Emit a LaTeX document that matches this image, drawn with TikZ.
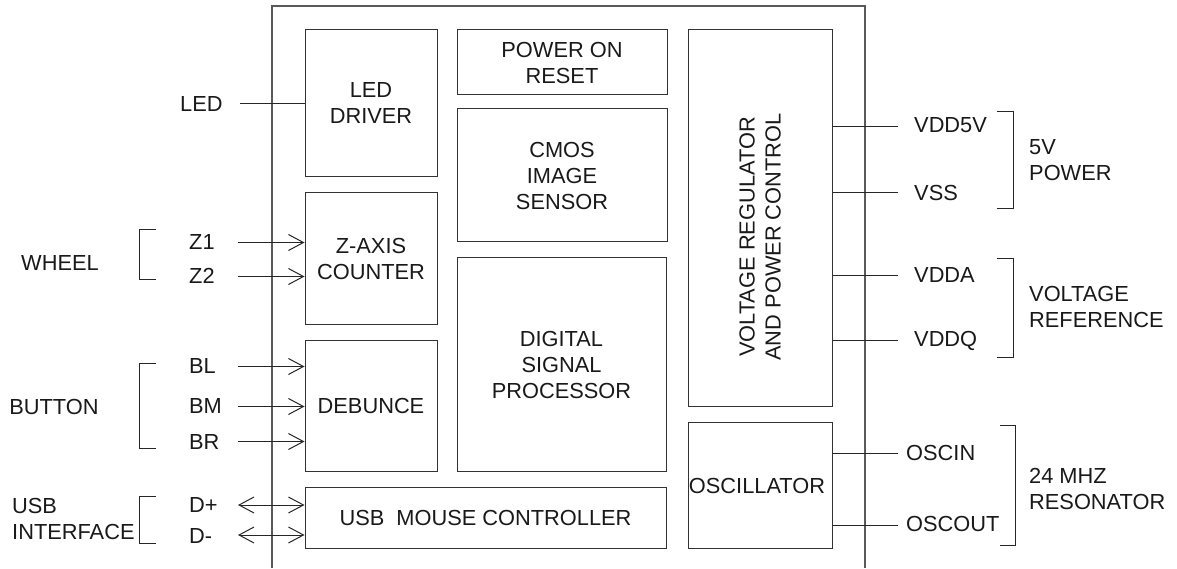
\documentclass[tikz,border=0pt]{standalone}
\usepackage{fontspec}
\setmainfont{Liberation Sans}
\usetikzlibrary{arrows.meta}
\begin{document}
\begin{tikzpicture}[x=1pt,y=-1pt,
  every node/.style={font=\fontsize{21.8}{26}\selectfont, inner sep=0pt, align=center, text=black!90},
  blk/.style={draw=black!80, line width=1pt, minimum width=#1},
  lbl/.style={anchor=west},
  wire/.style={draw=black!85, line width=1pt},
  arr/.style={wire, -{Straight Barb[length=15pt,width=16pt,line width=1pt]}},
  darr/.style={wire, {Straight Barb[length=15pt,width=16pt,line width=1pt]}-{Straight Barb[length=15pt,width=16pt,line width=1pt]}},
  brk/.style={draw=black!85, line width=1pt}]
\useasboundingbox (0,0) rectangle (1177,569);
% outer chip
\draw[draw=black!65, line width=1.3pt] (272,568) |- (865,6) -- (865,568);
% blocks
\node[blk=132pt, minimum height=147pt] (led) at (371,103.5) {LED\\DRIVER};
\node[blk=210pt, minimum height=65pt] (por) at (562,62.5) {POWER ON\\RESET};
\node[blk=210pt, minimum height=133pt] (cmos) at (562,175.5) {CMOS\\IMAGE\\SENSOR};
\node[blk=209pt, minimum height=213pt] (dsp) at (561.5,364.5) {DIGITAL\\SIGNAL\\PROCESSOR};
\node[blk=144pt, minimum height=376pt] (vr) at (760,218) {};
\node[rotate=90] (vrt) at (760,237) {VOLTAGE REGULATOR\\AND POWER CONTROL};
\node[blk=144pt, minimum height=126pt] (osc) at (760,485) {};
\node (osct) at (757,486) {OSCILLATOR};
\node[blk=132pt, minimum height=131pt] (zax) at (371,258.5) {Z-AXIS\\COUNTER};
\node[blk=132pt, minimum height=131pt] (deb) at (371,405.5) {DEBUNCE};
\node[blk=361pt, minimum height=61pt] (usb) at (485.5,517.5) {};
\node (usbt) at (485.5,517.5) {USB\ \ MOUSE CONTROLLER};
% left labels
\node[lbl] (ledl) at (180,104) {LED};
\coordinate (leds) at (240,104);
\draw[wire] (leds) -- (led.west |- leds);
\node (wheel) at (60,263) {WHEEL};
\node[lbl] (z1) at (189,242) {Z1};
\node[lbl] (z2) at (189,276) {Z2};
\coordinate (z1s) at (238,242.5);
\coordinate (z2s) at (238,276.5);
\draw[arr] (z1s) -- (zax.west |- z1s);
\draw[arr] (z2s) -- (zax.west |- z2s);
\draw[brk] (156,230) -- (139,230) -- (139,279) -- (156,279);
\node (button) at (54,407) {BUTTON};
\node[lbl] (bl) at (189,366) {BL};
\node[lbl] (bm) at (189,406) {BM};
\node[lbl] (br) at (189,442) {BR};
\coordinate (bls) at (238,366.5);
\coordinate (bms) at (238,406.5);
\coordinate (brs) at (238,441.5);
\draw[arr] (bls) -- (deb.west |- bls);
\draw[arr] (bms) -- (deb.west |- bms);
\draw[arr] (brs) -- (deb.west |- brs);
\draw[brk] (156,363) -- (139,363) -- (139,448) -- (156,448);
\node[align=left, anchor=west] (usbi) at (12,519) {USB\\INTERFACE};
\node[lbl] (dp) at (189,505) {D+};
\node[lbl] (dm) at (189,536) {D-};
\coordinate (dps) at (238,505);
\coordinate (dms) at (238,535);
\draw[darr] (dps) -- (usb.west |- dps);
\draw[darr] (dms) -- (usb.west |- dms);
\draw[brk] (156,496) -- (139,496) -- (139,543) -- (156,543);
% right labels
\node[lbl] (vdd5) at (914,125) {VDD5V};
\node[lbl] (vss) at (914,193) {VSS};
\node[lbl] (vdda) at (914,275) {VDDA};
\node[lbl] (vddq) at (914,341) {VDDQ};
\node[lbl] (oscin) at (906,453) {OSCIN};
\node[lbl] (oscout) at (906,524) {OSCOUT};
\coordinate (vdd5e) at (898,126.5);
\coordinate (vsse) at (898,193);
\coordinate (vddae) at (898,275);
\coordinate (vddqe) at (898,340);
\coordinate (oscine) at (898,453);
\coordinate (oscoute) at (898,525);
\draw[wire] (vr.east |- vdd5e) -- (vdd5e);
\draw[wire] (vr.east |- vsse) -- (vsse);
\draw[wire] (vr.east |- vddae) -- (vddae);
\draw[wire] (vr.east |- vddqe) -- (vddqe);
\draw[wire] (osc.east |- oscine) -- (oscine);
\draw[wire] (osc.east |- oscoute) -- (oscoute);
\draw[brk] (997,112) -- (1013,112) -- (1013,209) -- (997,209);
\draw[brk] (997,259) -- (1013,259) -- (1013,357) -- (997,357);
\draw[brk] (1000,425) -- (1015,425) -- (1015,545) -- (1000,545);
\node[align=left, anchor=west] (pw) at (1029,160) {5V\\POWER};
\node[align=left, anchor=west] (vref) at (1029,306.5) {VOLTAGE\\REFERENCE};
\node[align=left, anchor=west] (res) at (1029,489) {24 MHZ\\RESONATOR};
\end{tikzpicture}
\end{document}
